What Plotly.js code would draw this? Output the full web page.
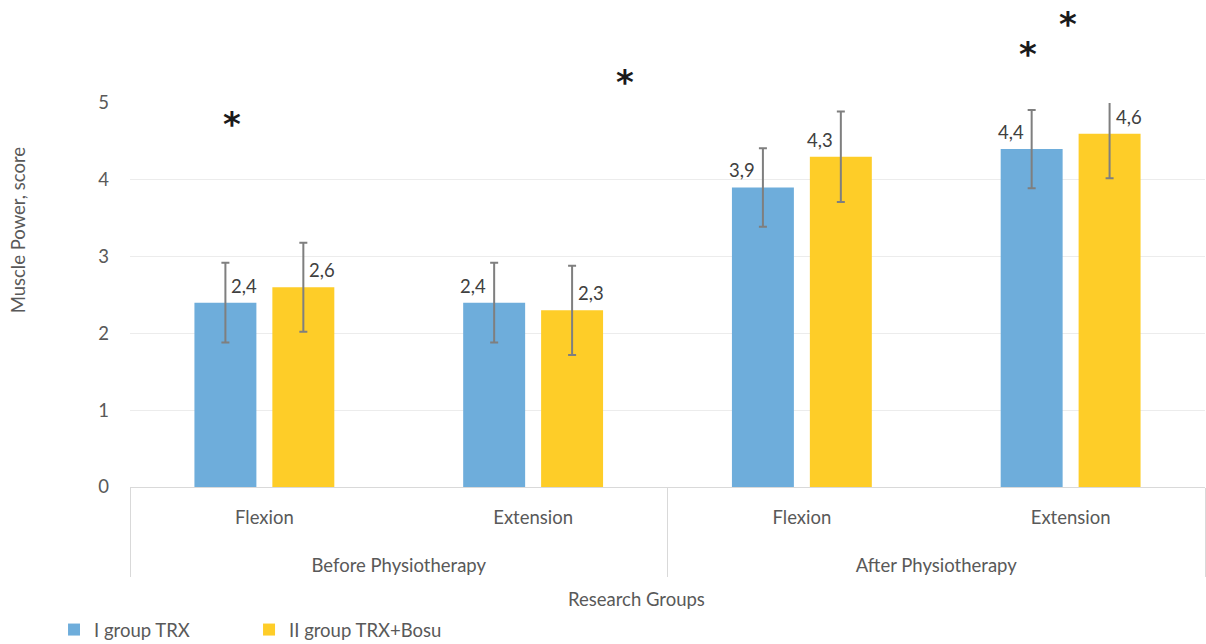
<!DOCTYPE html>
<html>
<head>
<meta charset="utf-8">
<script src="https://cdn.plot.ly/plotly-3.0.1.min.js"></script>
<style>html,body{margin:0;padding:0;background:#fff;}#chart{width:1206px;height:644px;}</style>
</head>
<body>
<div id="chart"></div>
<script>
// ---- data ----
const phases = ['Before Physiotherapy', 'Before Physiotherapy', 'After Physiotherapy', 'After Physiotherapy'];
const movements = ['Flexion', 'Extension', 'Flexion', 'Extension'];
const trxValues = [2.4, 2.4, 3.9, 4.4];
const trxErrors = [0.52, 0.52, 0.51, 0.51];
const bosuValues = [2.6, 2.3, 4.3, 4.6];
const bosuErrors = [0.58, 0.58, 0.59, 0.58];
const seriesNames = ['I group TRX', 'II group TRX+Bosu'];
const yTicks = [0, 1, 2, 3, 4, 5];

// ---- style ----
const FONT = 'Lato, "Open Sans", sans-serif';
const FS = 18.5;
const TXT = '#595959';
const BLUE = '#6EADDB';
const YELLOW = '#FECD28';
const ERR = '#7F7F7F';

const fmt = v => v.toFixed(1).replace('.', ',');

// an extra empty line under the first-level labels leaves room above the group labels
const movementLabels = movements.map(m => m + '<br> ');

const errStyle = {type: 'data', visible: true, color: ERR, thickness: 2, width: 4};

const traces = [
  {
    type: 'bar', name: seriesNames[0], x: [phases, movementLabels], y: trxValues,
    marker: {color: BLUE}, legend: 'legend',
    error_y: Object.assign({array: trxErrors}, errStyle),
    hoverinfo: 'skip'
  },
  {
    type: 'bar', name: seriesNames[1], x: [phases, movementLabels], y: bosuValues,
    marker: {color: YELLOW}, legend: 'legend2',
    error_y: Object.assign({array: bosuErrors}, errStyle),
    hoverinfo: 'skip'
  },
  {type: 'scatter', x: [], y: [], xaxis: 'x2', yaxis: 'y', showlegend: false, hoverinfo: 'skip'}
];

// data labels, placed beside the error bar of each bar (overlay numeric axis x2 = category index)
const barOffset = 0.145;
const trxLabelSide = ['right', 'left', 'left', 'left'];
const bosuLabelSide = ['right', 'right', 'left', 'right'];
const annotations = [];
function addLabels(values, offset, sides) {
  values.forEach((v, i) => {
    const side = sides[i];
    annotations.push({
      xref: 'x2', yref: 'y', x: i + offset, y: v,
      text: fmt(v), showarrow: false,
      xanchor: side === 'right' ? 'left' : 'right',
      yanchor: 'bottom',
      xshift: side === 'right' ? 4 : -6, yshift: 4,
      font: {family: FONT, size: FS, color: '#404040'}
    });
  });
}
addLabels(trxValues, -barOffset, trxLabelSide);
addLabels(bosuValues, barOffset, bosuLabelSide);

// significance asterisks (y in paper units of the plot height: value / 5)
const stars = [
  {x: -0.12, y: 4.78},
  {x: 1.342, y: 5.33},
  {x: 2.841, y: 5.69},
  {x: 2.99, y: 6.08}
];
stars.forEach(s => annotations.push({
  xref: 'x2', yref: 'paper', x: s.x, y: s.y / 5, text: '<b>*</b>', showarrow: false,
  xanchor: 'center', yanchor: 'middle', yshift: -4,
  font: {family: 'DejaVu Sans', size: 34, color: '#1a1a1a'}
}));

// axis titles
annotations.push({
  xref: 'paper', yref: 'paper', x: -0.104, y: 0.669, text: 'Muscle Power, score',
  textangle: -90, showarrow: false, xanchor: 'center', yanchor: 'middle',
  font: {family: FONT, size: FS, color: TXT}
});
annotations.push({
  xref: 'paper', yref: 'paper', x: 0.4716, y: -0.2917, text: 'Research Groups',
  showarrow: false, xanchor: 'center', yanchor: 'middle',
  font: {family: FONT, size: FS, color: TXT}
});

const legendBase = {
  orientation: 'h', xref: 'container', yref: 'container', y: 0.0217,
  xanchor: 'left', yanchor: 'middle',
  font: {family: FONT, size: FS, color: TXT}, bgcolor: 'rgba(0,0,0,0)'
};

const layout = {
  width: 1206, height: 644,
  margin: {l: 130, r: 1, t: 103, b: 157, autoexpand: false},
  paper_bgcolor: '#ffffff', plot_bgcolor: '#ffffff',
  font: {family: FONT, size: FS, color: TXT},
  barmode: 'group', bargap: 0.42, bargroupgap: 0.205,
  showlegend: true,
  legend: Object.assign({x: 0.0448}, legendBase),
  legend2: Object.assign({x: 0.2065}, legendBase),
  xaxis: {
    type: 'multicategory', automargin: false, showline: true, linecolor: '#D9D9D9', linewidth: 1,
    showdividers: true, dividercolor: '#D9D9D9', dividerwidth: 1,
    showgrid: false, ticks: 'outside', tickson: 'labels', ticklen: 14, tickcolor: 'rgba(0,0,0,0)',
    tickfont: {family: FONT, size: FS, color: TXT}
  },
  xaxis2: {overlaying: 'x', range: [-0.5, 3.5], visible: false, fixedrange: true},
  yaxis: {
    range: [0, 5], tickvals: yTicks, ticktext: yTicks.map(String), automargin: false,
    showgrid: true, gridcolor: '#ECECEC', gridwidth: 1, zeroline: false, showline: false,
    ticks: '', ticklabelstandoff: 20, tickfont: {family: FONT, size: FS, color: TXT}
  },
  annotations: annotations
};

Plotly.newPlot('chart', traces, layout, {displayModeBar: false, staticPlot: true});
</script>
</body>
</html>
